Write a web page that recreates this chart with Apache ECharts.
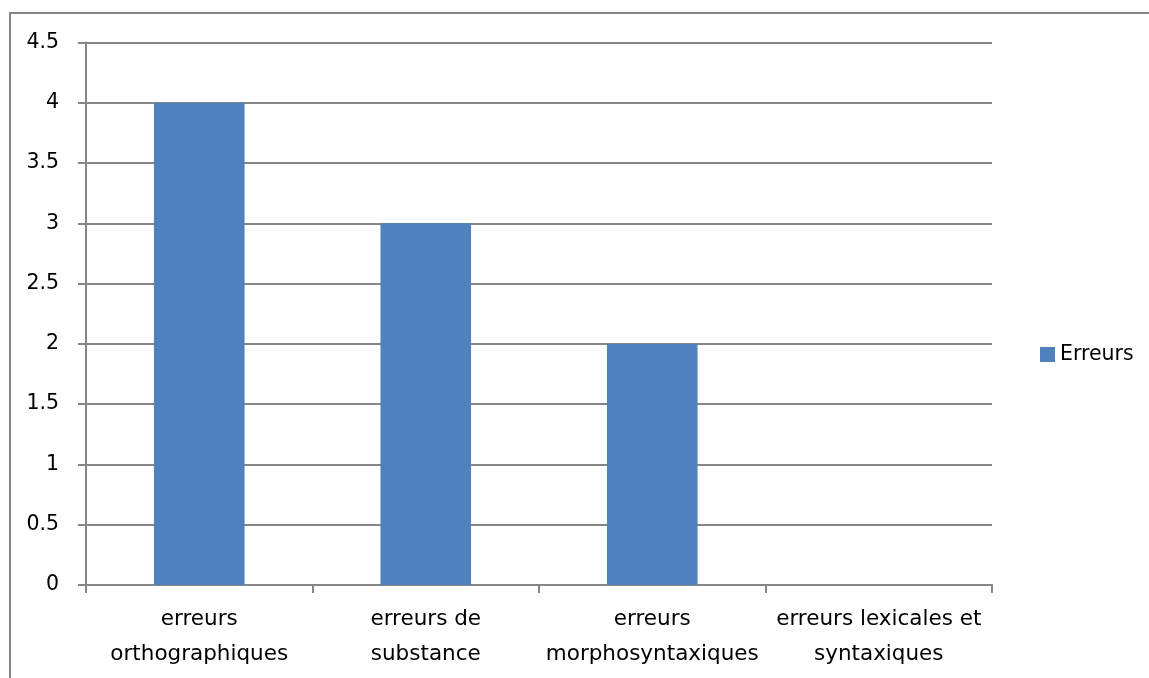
<!DOCTYPE html>
<html>
<head>
<meta charset="utf-8">
<script src="https://cdn.jsdelivr.net/npm/echarts@6/dist/echarts.min.js"></script>
<style>
  html, body { margin: 0; padding: 0; background: #fff; overflow: hidden; }
  #frame { position: absolute; left: 9px; top: 12px; width: 1200px; height: 700px; border: 2px solid #868686; box-sizing: border-box; }
  #chart { position: absolute; left: 0; top: 0; width: 1149px; height: 678px; }
</style>
</head>
<body>
<div id="frame"></div>
<div id="chart"></div>
<script>
// categories and values
const categories = [
  'erreurs\northographiques',
  'erreurs de\nsubstance',
  'erreurs\nmorphosyntaxiques',
  'erreurs lexicales et\nsyntaxiques'
]
const erreurs = [4, 3, 2, 0]
const seriesName = 'Erreurs'

const font = '"DejaVu Sans", sans-serif'
const gray = '#868686'

let chart = echarts.init(document.getElementById('chart'))
let option = {
  animation: false,
  textStyle: { fontFamily: font },
  grid: { left: 86, top: 42.5, right: 157, bottom: 93, containLabel: false },
  legend: {
    data: [seriesName],
    orient: 'vertical',
    left: 1035,
    top: 339,
    itemWidth: 15,
    itemHeight: 15,
    itemGap: 6,
    icon: 'rect',
    textStyle: { fontSize: 20.5, color: '#000', fontFamily: font }
  },
  xAxis: {
    type: 'category',
    data: categories,
    axisLine: { lineStyle: { color: gray, width: 2 } },
    axisTick: { show: true, length: 8, alignWithLabel: false, lineStyle: { color: gray, width: 2 } },
    axisLabel: { color: '#000', fontSize: 21.5, lineHeight: 35, margin: 17, interval: 0, fontFamily: font }
  },
  yAxis: {
    type: 'value',
    min: 0,
    max: 4.5,
    interval: 0.5,
    axisLine: { show: true, lineStyle: { color: gray, width: 2 } },
    axisTick: { show: true, length: 8, lineStyle: { color: gray, width: 2 } },
    axisLabel: { color: '#000', fontSize: 20.5, margin: 27, fontFamily: font },
    splitLine: { show: true, lineStyle: { color: gray, width: 2 } }
  },
  series: [
    {
      name: seriesName,
      type: 'bar',
      data: erreurs,
      barCategoryGap: '60%',
      itemStyle: { color: '#4F81BD' }
    }
  ]
}
chart.setOption(option, true)
</script>
</body>
</html>
